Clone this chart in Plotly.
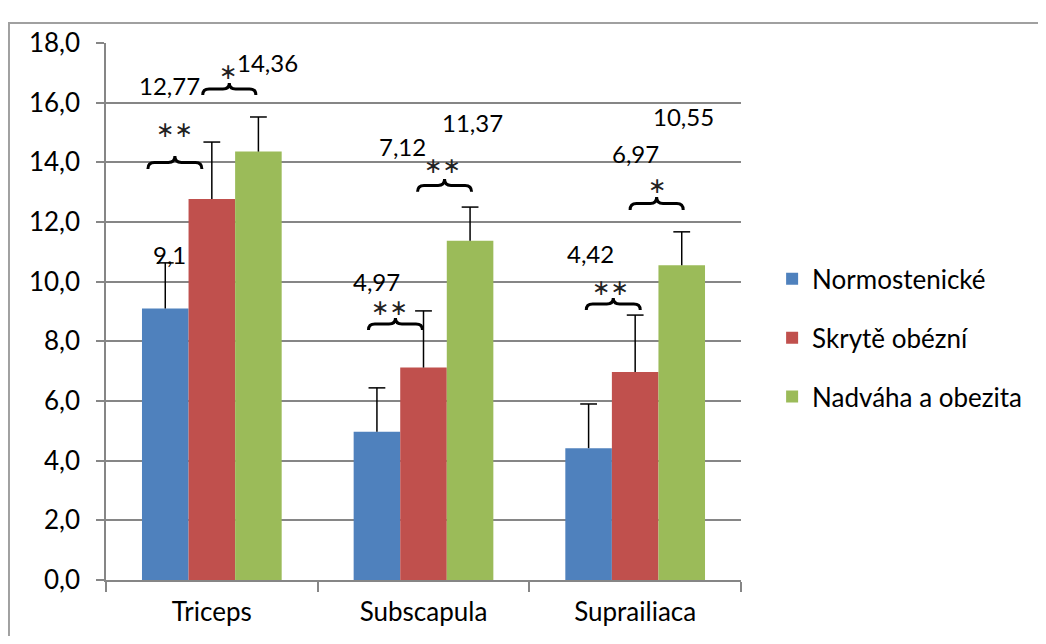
import plotly.graph_objects as go

categories = ["Triceps", "Subscapula", "Suprailiaca"]
series_names = ["Normostenické", "Skrytě obézní", "Nadváha a obezita"]
normo = [9.1, 4.97, 4.42]
skryte = [12.77, 7.12, 6.97]
nadvaha = [14.36, 11.37, 10.55]
normo_err = [1.53, 1.47, 1.48]
skryte_err = [1.91, 1.90, 1.91]
nadvaha_err = [1.16, 1.13, 1.12]
label_texts = [["9,1", "4,97", "4,42"], ["12,77", "7,12", "6,97"], ["14,36", "11,37", "10,55"]]

colors = ["#4F81BD", "#C0504D", "#9BBB59"]
values = [normo, skryte, nadvaha]
errs = [normo_err, skryte_err, nadvaha_err]

# manually placed value labels (x as category index, y in data units)
label_pos = [
    [(-0.20, 10.9), (0.78, 9.99), (1.79, 10.96)],
    [(-0.20, 16.56), (0.90, 14.52), (2.00, 14.31)],
    [(0.265, 17.36), (1.23, 15.35), (2.23, 15.52)],
]

# significance braces: x0, x1, y_end, y_peak, star text, star x, star y
braces = [
    (-0.302, -0.047, 13.78, 14.21, "**", -0.175, 15.09),
    (-0.043, 0.208, 16.26, 16.66, "*", 0.078, 17.03),
    (0.740, 0.995, 8.38, 8.78, "**", 0.839, 9.15),
    (0.972, 1.227, 13.01, 13.44, "**", 1.09, 13.91),
    (1.769, 2.024, 9.05, 9.45, "**", 1.882, 9.79),
    (1.976, 2.227, 12.40, 12.84, "*", 2.104, 13.21),
]

FONT = "Lato, Open Sans, sans-serif"

fig = go.Figure()
for i in range(3):
    fig.add_trace(go.Bar(
        x=categories, y=values[i], name=series_names[i],
        marker=dict(color=colors[i], line=dict(width=0)),
        error_y=dict(type="data", array=errs[i], arrayminus=[0, 0, 0], symmetric=False,
                     color="black", thickness=1.5, width=0),
        legendgroup=str(i), offsetgroup=str(i),
    ))
# caps on top of the error bars
for i in range(3):
    fig.add_trace(go.Scatter(
        x=categories, y=[v + e for v, e in zip(values[i], errs[i])],
        mode="markers", marker=dict(symbol="line-ew", size=12, color="black",
                                    line=dict(color="black", width=1.5)),
        showlegend=False, hoverinfo="skip", offsetgroup=str(i),
    ))

shapes = []
annotations = []
for i in range(3):
    for j in range(3):
        x, y = label_pos[i][j]
        annotations.append(dict(x=x, y=y, xref="x2", yref="y", text=label_texts[i][j],
                                showarrow=False, font=dict(family=FONT, size=24, color="black")))

for (x0, x1, yb, yt, star, sx, sy) in braces:
    xm = (x0 + x1) / 2
    ym = (yb + yt) / 2
    q = (x1 - x0) * 0.12
    path = (f"M {x0},{yb} Q {x0},{ym} {x0+q},{ym} L {xm-q},{ym} "
            f"Q {xm},{ym} {xm},{yt} Q {xm},{ym} {xm+q},{ym} "
            f"L {x1-q},{ym} Q {x1},{ym} {x1},{yb}")
    shapes.append(dict(type="path", path=path, xref="x2", yref="y",
                       line=dict(color="black", width=3)))
    annotations.append(dict(x=sx, y=sy, xref="x2", yref="y", text=star.replace("*", "∗"),
                            showarrow=False, font=dict(family="DejaVu Sans", size=22, color="#222")))

# outer chart border
shapes.append(dict(type="rect", xref="paper", yref="paper", x0=-0.1528, x1=1.6, y0=-0.2, y1=1.0372,
                   line=dict(color="#A0A0A0", width=2), layer="below"))

fig.update_layout(
    width=1030, height=628,
    margin=dict(l=98, r=297, t=35, b=56, autoexpand=False),
    paper_bgcolor="white", plot_bgcolor="white",
    barmode="group", bargap=0.34, bargroupgap=0,
    scattermode="group", scattergap=0.34,
    separators=", ",
    font=dict(family=FONT, size=26, color="black"),
    showlegend=True,
    legend=dict(x=1.049, y=0.4507, yanchor="middle", xanchor="left",
                font=dict(family=FONT, size=26), tracegroupgap=22,
                itemwidth=30, bgcolor="rgba(0,0,0,0)"),
    xaxis=dict(type="category", tickson="boundaries", ticks="outside", ticklen=10,
               tickcolor="#868686", tickwidth=1.5, showline=True, linecolor="#868686",
               linewidth=1.5, showgrid=False, tickfont=dict(family=FONT, size=26),
               ticklabelstandoff=8),
    xaxis2=dict(overlaying="x", range=[-0.5, 2.5], visible=False),
    yaxis=dict(range=[0, 18], dtick=2, tickformat=".1f", ticks="outside", ticklen=8,
               tickcolor="#868686", tickwidth=1.5, showline=True, linecolor="#868686",
               linewidth=1.5, showgrid=True, gridcolor="#868686", gridwidth=1.5,
               zeroline=False, tickfont=dict(family=FONT, size=26),
               ticklabelstandoff=11),
    shapes=shapes, annotations=annotations,
)

fig.write_html("out.html")
